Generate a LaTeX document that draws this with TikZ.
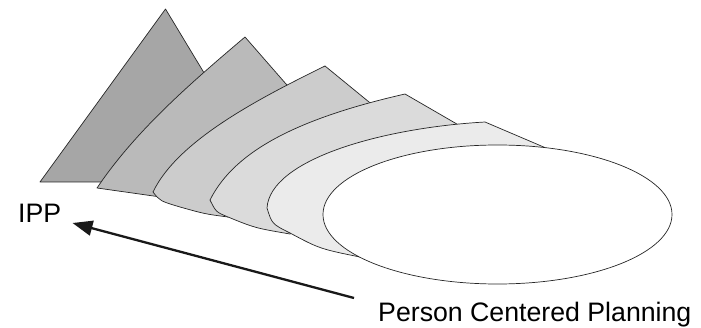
\documentclass[tikz,border=0pt]{standalone}
\usepackage{fontspec}
\setmainfont{Liberation Sans}
\usepackage{tikz}
\usetikzlibrary{arrows.meta}

\begin{document}
\begin{tikzpicture}[
    x=1pt, y=-1pt,
    layer/.style={draw=black!85, line width=0.7pt, line join=round},
    arrow/.style={-{Triangle[length=20pt, width=15pt]}, line width=2.3pt, draw=black!90},
    lbl/.style={font=\fontsize{26.7}{30}\selectfont, inner sep=0pt, anchor=base west}
]
    \useasboundingbox (0,0) rectangle (701,328);

    % layers, back to front
    \draw[layer, fill=black!35] (165.5,9) -- (40,182) -- (110,182) -- (150,170) -- (215,91) -- cycle;
    \draw[layer, fill=black!27] (245,37) .. controls (192,82) and (136,130) .. (97,188)
        -- (157,196.5) -- (200,180) -- (300,100) -- cycle;
    \draw[layer, fill=black!20] (325,66) .. controls (260,98) and (178,140) .. (153,192)
        .. controls (160,201) .. (180,207) .. controls (205,214) .. (228,217)
        -- (260,200) -- (380,111) -- cycle;
    \draw[layer, fill=black!14] (405,94) .. controls (300,118) and (235,150) .. (210,200)
        .. controls (216,212) .. (228,217) .. controls (255,228) .. (290,234)
        -- (330,210) -- (462,127) -- cycle;
    \draw[layer, fill=black!8] (485,122) .. controls (380,128) and (270,160) .. (267,208)
        .. controls (272,224) .. (290,233) .. controls (320,249) .. (365,258)
        -- (400,220) -- (560,154) -- cycle;
    \draw[layer, fill=white] (497.5,214.5) ellipse [x radius=174.5, y radius=69.5];

    \node[lbl] (ipp) at (18,223) {IPP};
    \node[lbl] (pcp) at (378,321.5) {Person Centered Planning};

    \coordinate (pcpend) at (354,298);
    \coordinate (ipptip) at (72.5,223);
    \draw[arrow] (pcpend) -- (ipptip);
\end{tikzpicture}
\end{document}
